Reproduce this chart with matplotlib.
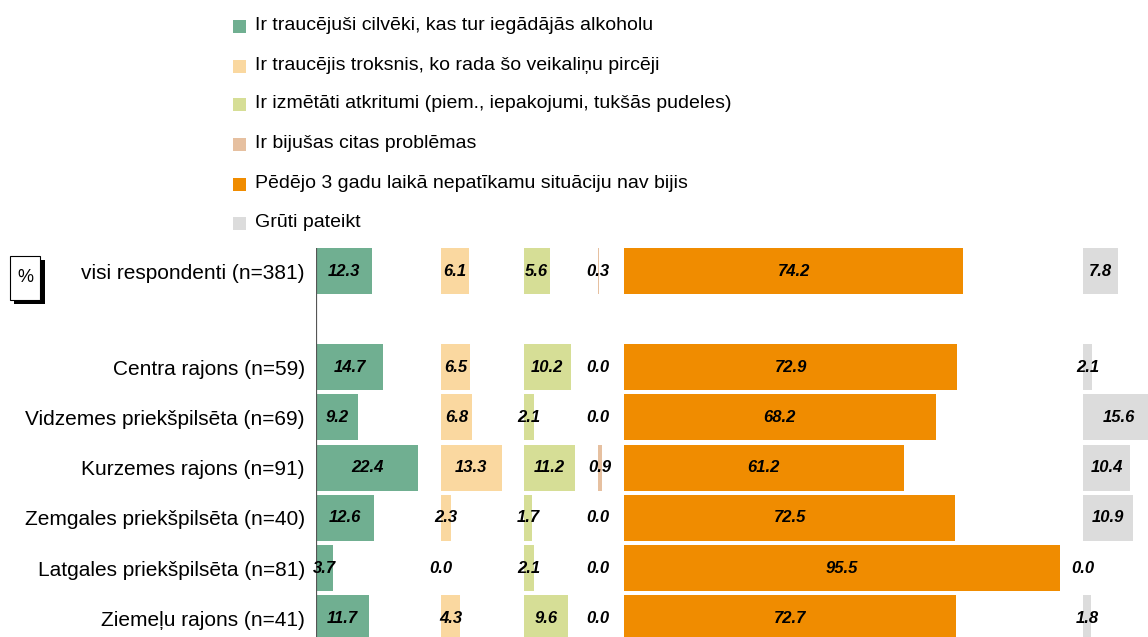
import matplotlib.pyplot as plt
from matplotlib.patches import Rectangle

plt.rcParams["font.family"] = ["Liberation Sans", "DejaVu Sans"]

categories = [
    "visi respondenti (n=381)",
    "Centra rajons (n=59)",
    "Vidzemes priekšpilsēta (n=69)",
    "Kurzemes rajons (n=91)",
    "Zemgales priekšpilsēta (n=40)",
    "Latgales priekšpilsēta (n=81)",
    "Ziemeļu rajons (n=41)",
]
series_names = [
    "Ir traucējuši cilvēki, kas tur iegādājās alkoholu",
    "Ir traucējis troksnis, ko rada šo veikaliņu pircēji",
    "Ir izmētāti atkritumi (piem., iepakojumi, tukšās pudeles)",
    "Ir bijušas citas problēmas",
    "Pēdējo 3 gadu laikā nepatīkamu situāciju nav bijis",
    "Grūti pateikt",
]
colors = ["#70af91", "#fad8a0", "#d6de96", "#e6c0a0", "#f08c00", "#dcdcdc"]

alcohol = [12.3, 14.7, 9.2, 22.4, 12.6, 3.7, 11.7]
noise = [6.1, 6.5, 6.8, 13.3, 2.3, 0.0, 4.3]
litter = [5.6, 10.2, 2.1, 11.2, 1.7, 2.1, 9.6]
other = [0.3, 0.0, 0.0, 0.9, 0.0, 0.0, 0.0]
none_3y = [74.2, 72.9, 68.2, 61.2, 72.5, 95.5, 72.7]
hard_to_say = [7.8, 2.1, 15.6, 10.4, 10.9, 0.0, 1.8]

series = [alcohol, noise, litter, other, none_3y, hard_to_say]

# vertical positions: gap after the total row
ypos = [0, 1.91, 2.91, 3.91, 4.91, 5.91, 6.91]

W, H = 1148, 637
fig = plt.figure(figsize=(W / 100, H / 100), dpi=100)
ax = fig.add_axes([316 / W, 0, 1 - 316 / W, (637 - 248) / H])

gap = 4.9
offset = 0.0
for vals, col in zip(series, colors):
    ax.barh(ypos, vals, left=offset, height=0.92, color=col, edgecolor="none")
    for y, v in zip(ypos, vals):
        ax.text(offset + v / 2, y, f"{v:.1f}", ha="center", va="center",
                fontsize=12, fontweight="bold", fontstyle="italic", color="black")
    offset += max(vals) + gap

ax.axvline(0, color="#555555", linewidth=1.6)
ax.set_xlim(0, 832 / 4.57)
ax.set_ylim(7.28, -0.46)
ax.set_yticks(ypos)
ax.set_yticklabels(categories, fontsize=15)
ax.tick_params(axis="y", length=0, pad=8)
ax.set_xticks([])
for s in ax.spines.values():
    s.set_visible(False)

# legend
leg_y = [25, 65, 103, 143, 183, 222]
for name, col, y in zip(series_names, colors, leg_y):
    fig.add_artist(Rectangle(((233) / W, 1 - (y + 8) / H), 13 / W, 13 / H,
                             transform=fig.transFigure, color=col, lw=0))
    fig.text(255 / W, 1 - y / H, name, fontsize=14, va="center", ha="left")

# "%" box with shadow
fig.add_artist(Rectangle((14 / W, 1 - 304 / H), 31 / W, 44 / H,
                         transform=fig.transFigure, facecolor="black", lw=0))
fig.add_artist(Rectangle((10 / W, 1 - 300 / H), 30 / W, 44 / H,
                         transform=fig.transFigure, facecolor="white",
                         edgecolor="black", lw=0.8))
fig.text(25 / W, 1 - 277 / H, "%", fontsize=13, ha="center", va="center")

fig.savefig("out.png", dpi=100)
